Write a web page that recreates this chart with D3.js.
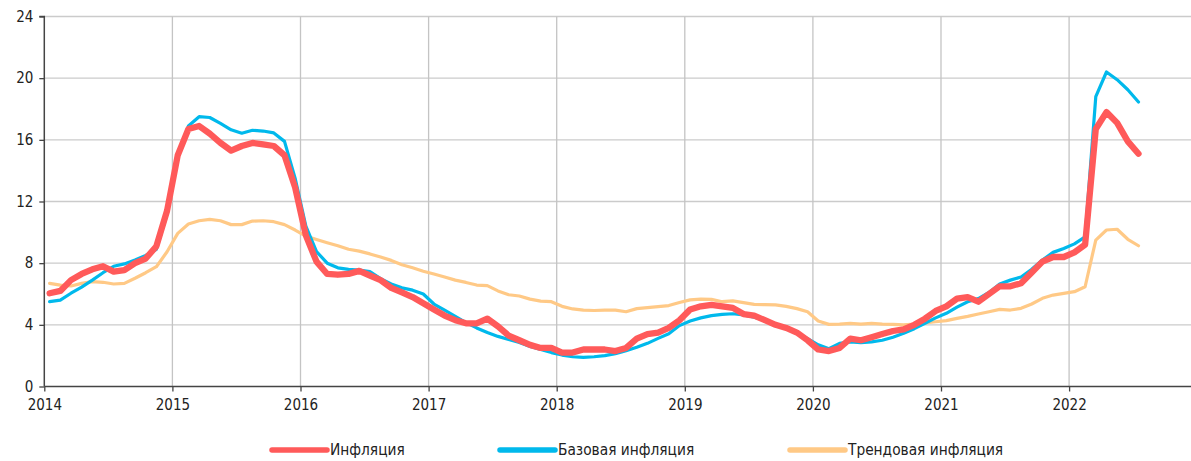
<!DOCTYPE html>
<html><head><meta charset="utf-8">
<script src="https://cdn.jsdelivr.net/npm/d3@7"></script>
<style>
html,body{margin:0;padding:0;background:#fff;}
svg{display:block;}
text{font-family:"Liberation Sans Narrow","DejaVu Sans Condensed","Roboto",sans-serif;fill:#222;}
</style></head>
<body><svg id="c" width="1191" height="461"></svg>
<script>
// Monthly series, Jan 2014 – Jul 2022 (year-on-year, %)
const firstYear = 2014, monthCount = 103;
const yearTicks = [2014,2015,2016,2017,2018,2019,2020,2021,2022];
const valueTicks = [0,4,8,12,16,20,24];
const seriesNames = ["Инфляция","Базовая инфляция","Трендовая инфляция"];
const seriesColors = ["#ff5a5a","#00b9ec","#ffc986"];

const inflation = [
 6.05,6.2,6.9,7.3,7.6,7.8,7.45,7.55,8.0,8.3,9.1,11.4,
 15.0,16.7,16.9,16.4,15.8,15.3,15.6,15.8,15.7,15.6,15.0,12.9,
 9.8,8.1,7.3,7.25,7.3,7.5,7.2,6.9,6.4,6.1,5.8,5.4,
 5.0,4.6,4.3,4.1,4.1,4.4,3.9,3.3,3.0,2.7,2.5,2.5,
 2.2,2.2,2.4,2.4,2.4,2.3,2.5,3.1,3.4,3.5,3.8,4.3,
 5.0,5.2,5.3,5.2,5.1,4.7,4.6,4.3,4.0,3.8,3.5,3.0,
 2.4,2.3,2.5,3.1,3.0,3.2,3.4,3.6,3.7,4.0,4.4,4.9,
 5.2,5.7,5.8,5.5,6.0,6.5,6.5,6.7,7.4,8.1,8.4,8.4,
 8.7,9.2,16.7,17.8,17.1,15.9,15.1];
const coreInflation = [
 5.5,5.6,6.05,6.45,6.9,7.38,7.8,7.95,8.2,8.5,8.9,11.2,
 15.0,16.9,17.5,17.45,17.07,16.65,16.43,16.62,16.57,16.45,15.9,13.5,
 10.4,8.75,8.0,7.7,7.6,7.55,7.45,7.0,6.65,6.4,6.25,6.0,
 5.35,4.95,4.55,4.15,3.8,3.5,3.25,3.05,2.85,2.6,2.4,2.2,
 2.04,1.93,1.89,1.93,2.0,2.13,2.32,2.54,2.8,3.12,3.42,3.95,
 4.25,4.45,4.6,4.68,4.72,4.65,4.5,4.3,4.0,3.8,3.5,3.1,
 2.7,2.45,2.8,2.9,2.85,2.9,3.0,3.2,3.45,3.75,4.1,4.45,
 4.75,5.15,5.5,5.7,6.1,6.65,6.9,7.1,7.6,8.2,8.7,8.95,
 9.25,9.7,18.8,20.4,19.9,19.25,18.45];
const trendInflation = [
 6.69,6.58,6.52,6.69,6.8,6.76,6.65,6.69,7.02,7.38,7.77,8.74,
 9.93,10.54,10.75,10.84,10.75,10.5,10.5,10.73,10.75,10.69,10.5,10.15,
 9.76,9.54,9.33,9.13,8.9,8.78,8.6,8.4,8.18,7.9,7.7,7.48,
 7.3,7.1,6.9,6.75,6.58,6.54,6.2,5.95,5.87,5.67,5.54,5.5,
 5.2,5.03,4.95,4.93,4.95,4.95,4.85,5.05,5.12,5.18,5.25,5.45,
 5.62,5.67,5.65,5.5,5.55,5.44,5.33,5.31,5.3,5.2,5.05,4.85,
 4.25,4.03,4.05,4.1,4.05,4.1,4.05,4.03,4.0,4.05,4.12,4.2,
 4.27,4.42,4.55,4.7,4.85,5.0,4.96,5.07,5.35,5.72,5.93,6.04,
 6.15,6.47,9.5,10.15,10.2,9.55,9.13];

const svg = d3.select("#c");
const x0 = 44.3, pxPerYear = 128.1, W = 1191;
const x = d3.scaleLinear().domain([2014, 2014 + (W - x0)/pxPerYear]).range([x0, W]);
const y = d3.scaleLinear().domain([0,24]).range([386.5, 16.5]);

// grid
const g = svg.append("g");
g.selectAll("line.h").data(valueTicks.filter(v=>v>0)).join("line")
 .attr("x1", x0).attr("x2", W).attr("y1", d=>y(d)).attr("y2", d=>y(d))
 .attr("stroke","#cbcbcb").attr("stroke-width",1.3);
g.selectAll("line.v").data(yearTicks.filter(v=>v>2014)).join("line")
 .attr("x1", d=>x(d)).attr("x2", d=>x(d)).attr("y1", y(0)).attr("y2", y(24))
 .attr("stroke","#c4c4c4").attr("stroke-width",1.3);

// axes
const xAxis = d3.axisBottom(x).tickValues(yearTicks).tickFormat(d3.format("d")).tickSize(5).tickPadding(5);
const yAxis = d3.axisLeft(y).tickValues(valueTicks).tickSize(5).tickPadding(6);
const xa = svg.append("g").attr("transform",`translate(0,${y(0)})`).call(xAxis);
const ya = svg.append("g").attr("transform",`translate(${x0},0)`).call(yAxis);
[xa,ya].forEach(a=>{
  a.select(".domain").attr("stroke","#444").attr("stroke-width",1.5);
  a.selectAll(".tick line").attr("stroke","#444").attr("stroke-width",1.3);
  a.selectAll("text").attr("font-size",15).attr("fill","#222")
   .attr("font-family",'"Liberation Sans Narrow","DejaVu Sans Condensed",Roboto,sans-serif');
});
ya.select(".domain").attr("d",`M-5,${y(24)}H0V${y(0)}`);
xa.select(".domain").attr("d",`M${x0},0H${W}`);
xa.selectAll("text").attr("dy","0.9em");

// lines
const dates = d3.range(monthCount).map(i => firstYear + Math.floor(i/12) + ((i%12)+0.5)/12);
const line = d3.line().x((d,i)=>x(dates[i])).y(d=>y(d));
const series = [
  {v: trendInflation, c: seriesColors[2], w: 3.2},
  {v: coreInflation, c: seriesColors[1], w: 3.2},
  {v: inflation, c: seriesColors[0], w: 6.3}
];
svg.append("g").selectAll("path").data(series).join("path")
 .attr("d", d=>line(d.v)).attr("fill","none").attr("stroke",d=>d.c)
 .attr("stroke-width",d=>d.w).attr("stroke-linejoin","round").attr("stroke-linecap","round");

// legend
const legX = [272, 500, 790];
const leg = svg.append("g");
seriesNames.forEach((n,i)=>{
  leg.append("line").attr("x1",legX[i]).attr("x2",legX[i]+55).attr("y1",450).attr("y2",450)
    .attr("stroke",seriesColors[i]).attr("stroke-width",5.5).attr("stroke-linecap","round");
  leg.append("text").attr("x",legX[i]+58).attr("y",450).attr("dy","0.35em")
    .attr("font-size",15.3).text(n);
});
</script></body></html>
